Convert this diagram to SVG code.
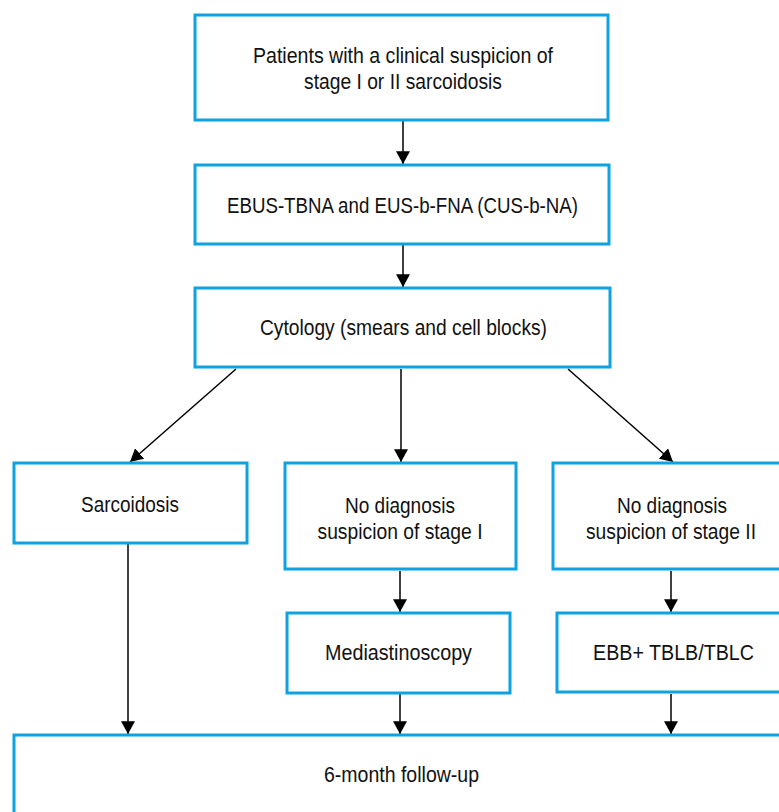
<svg xmlns="http://www.w3.org/2000/svg" width="779" height="812" viewBox="0 0 779 812">
<style>
.box{fill:#fff;stroke:#0ea2e0;stroke-width:3}
.t{font-family:"Liberation Sans Narrow","Liberation Sans","Roboto",sans-serif;font-size:22px;fill:#111;text-anchor:middle}
.c{stroke:#000;stroke-width:1.5;fill:none;marker-end:url(#ah)}
</style>
<defs>
<marker id="ah" markerUnits="userSpaceOnUse" markerWidth="14" markerHeight="14" viewBox="0 0 12 12" refX="11" refY="6" orient="auto">
<path d="M0,0 L11,6 L0,12 Z" fill="#000"/>
</marker>
</defs>
<rect width="779" height="812" fill="#fff"/>
<g id="connectors">
<line class="c" x1="403" y1="121" x2="403" y2="164"/>
<line class="c" x1="403" y1="245" x2="403" y2="287"/>
<line class="c" x1="236" y1="369" x2="130" y2="462"/>
<line class="c" x1="401" y1="369" x2="401" y2="462"/>
<line class="c" x1="568" y1="369" x2="673" y2="462"/>
<line class="c" x1="128" y1="544" x2="128" y2="734"/>
<line class="c" x1="400" y1="571" x2="400" y2="612"/>
<line class="c" x1="671" y1="571" x2="671" y2="612"/>
<line class="c" x1="400" y1="694" x2="400" y2="734"/>
<line class="c" x1="671" y1="694" x2="671" y2="734"/>
</g>
<g id="n1">
<rect class="box" x="195" y="15" width="413" height="105"/>
<text class="t" x="403" y="63" textLength="300" lengthAdjust="spacingAndGlyphs">Patients with a clinical suspicion of</text>
<text class="t" x="403" y="89" textLength="198" lengthAdjust="spacingAndGlyphs">stage I or II sarcoidosis</text>
</g>
<g id="n2">
<rect class="box" x="195" y="165" width="414" height="79"/>
<text class="t" x="402.5" y="213" textLength="351" lengthAdjust="spacingAndGlyphs">EBUS-TBNA and EUS-b-FNA (CUS-b-NA)</text>
</g>
<g id="n3">
<rect class="box" x="195" y="288" width="415" height="79"/>
<text class="t" x="403.5" y="335" textLength="287" lengthAdjust="spacingAndGlyphs">Cytology (smears and cell blocks)</text>
</g>
<g id="n4">
<rect class="box" x="14" y="463" width="233" height="80"/>
<text class="t" x="130" y="512" textLength="98" lengthAdjust="spacingAndGlyphs">Sarcoidosis</text>
</g>
<g id="n5">
<rect class="box" x="285" y="463" width="231" height="106"/>
<text class="t" x="400" y="513" textLength="110" lengthAdjust="spacingAndGlyphs">No diagnosis</text>
<text class="t" x="400" y="539" textLength="165" lengthAdjust="spacingAndGlyphs">suspicion of stage I</text>
</g>
<g id="n6">
<rect class="box" x="553" y="463" width="250" height="106"/>
<text class="t" x="672" y="513" textLength="110" lengthAdjust="spacingAndGlyphs">No diagnosis</text>
<text class="t" x="671" y="539" textLength="170" lengthAdjust="spacingAndGlyphs">suspicion of stage II</text>
</g>
<g id="n7">
<rect class="box" x="287" y="613" width="223" height="80"/>
<text class="t" x="398.5" y="660" textLength="147" lengthAdjust="spacingAndGlyphs">Mediastinoscopy</text>
</g>
<g id="n8">
<rect class="box" x="557" y="613" width="246" height="79"/>
<text class="t" x="673.5" y="660" textLength="161" lengthAdjust="spacingAndGlyphs">EBB+ TBLB/TBLC</text>
</g>
<g id="n9">
<rect class="box" x="14" y="735" width="790" height="100"/>
<text class="t" x="401.5" y="782" textLength="155" lengthAdjust="spacingAndGlyphs">6-month follow-up</text>
</g>
</svg>
